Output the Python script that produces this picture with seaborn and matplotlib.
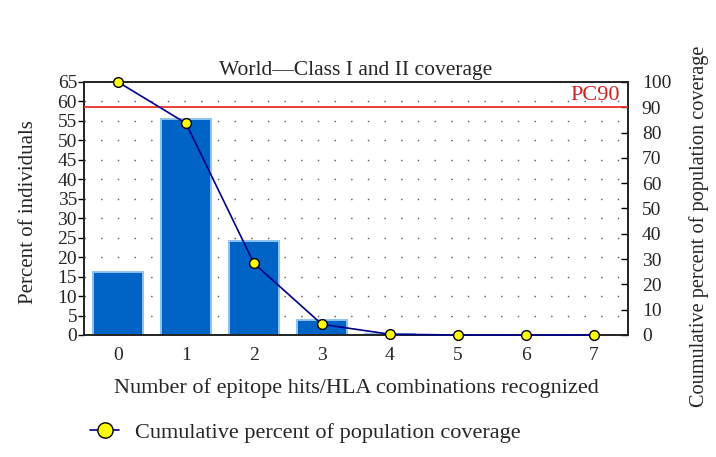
import numpy as np
import pandas as pd
import seaborn as sns
import matplotlib.pyplot as plt
from matplotlib.lines import Line2D

# data
hits = [0, 1, 2, 3, 4, 5, 6, 7]
percent_individuals = [16.3, 55.4, 24.1, 3.9, 0.3, 0.0, 0.0, 0.0]
cumulative_coverage = [100.0, 83.7, 28.3, 4.2, 0.3, 0.0, 0.0, 0.0]
pc90 = 90

sns.set_theme(style="white")
plt.rcParams["font.family"] = ["Liberation Serif", "DejaVu Serif"]

df = pd.DataFrame({"hits": hits, "pct": percent_individuals, "cum": cumulative_coverage})

fig = plt.figure(figsize=(7.16, 4.57), dpi=100)
ax = fig.add_axes([0.1173, 0.267, 0.7597, 0.5536])

# dotted horizontal grid
for y in range(5, 65, 5):
    ax.axhline(y, color="#555555", linestyle=(0, (1, 11)), linewidth=1.0, zorder=0)

sns.barplot(data=df, x="hits", y="pct", color="#0063c6", width=0.74,
            edgecolor="#8fc2f2", linewidth=1.4, saturation=1, ax=ax, zorder=2)
ax.set_xlim(-0.5, 7.5)
ax.set_ylim(0, 65)
ax.set_yticks(range(0, 66, 5))
ax.set_xlabel("Number of epitope hits/HLA combinations recognized", fontsize=16, labelpad=10)
ax.set_ylabel("Percent of individuals", fontsize=15)
ax.yaxis.set_label_coords(-0.084, 0.486)
ax.tick_params(axis="y", direction="out", length=4, width=1, labelsize=14, pad=1, color="black")
ax.tick_params(axis="x", direction="out", length=4, width=1, labelsize=14, pad=5, color="black")
ax.set_title("World\u2014Class I and II coverage", fontsize=15.5, pad=5)
for s in ax.spines.values():
    s.set_color("#222222")
    s.set_linewidth(1.2)

ax2 = ax.twinx()
sns.lineplot(data=df, x=np.arange(len(hits)), y="cum", color="#00008b", linewidth=1.2,
             marker="o", markersize=7, markerfacecolor="#ffff00", markeredgecolor="black",
             markeredgewidth=1.0, ax=ax2, zorder=5, clip_on=False)
ax2.set_ylim(0, 100)
ax2.set_yticks(range(0, 101, 10))
ax2.set_xlim(-0.5, 7.5)
ax2.set_ylabel("Coumulative percent of population coverage", fontsize=14.6)
ax2.yaxis.set_label_coords(1.112, 0.43)
ax2.tick_params(axis="y", direction="in", length=5, width=1, labelsize=14, pad=10, color="black")
ax2.axhline(pc90, color="#e8302a", linewidth=1.3, zorder=4)
ax2.text(7.38, pc90 + 0.8, "PC90", color="#d42020", fontsize=16, ha="right", va="bottom")
for s in ax2.spines.values():
    s.set_color("#222222")
    s.set_linewidth(1.2)

handle = Line2D([], [], color="#00008b", linewidth=1.2, marker="o", markersize=11,
                markerfacecolor="#ffff00", markeredgecolor="black", markeredgewidth=1.0)
fig.legend([handle], ["Cumulative percent of population coverage"], loc="center left",
           bbox_to_anchor=(0.126, 0.053), frameon=False, fontsize=16, handlelength=1.3,
           handletextpad=0.7, borderpad=0, borderaxespad=0)

plt.savefig("out.png", dpi=100)
